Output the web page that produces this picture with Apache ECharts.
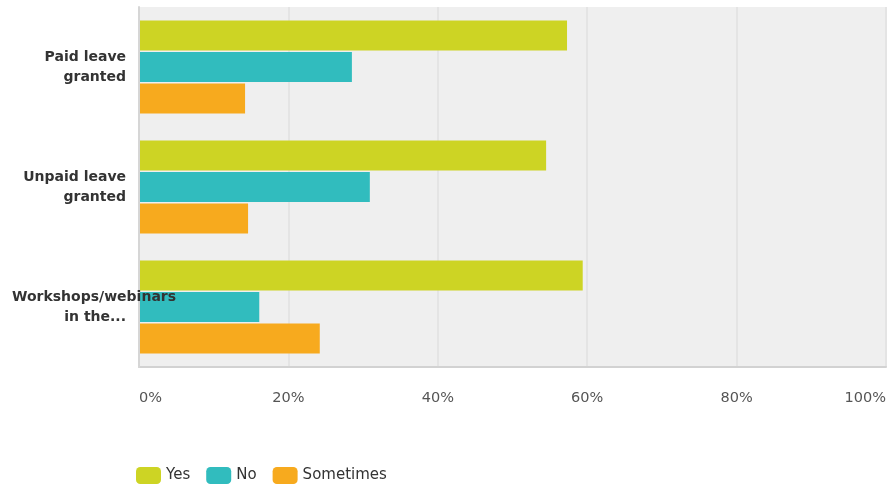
<!DOCTYPE html>
<html><head><meta charset="utf-8">
<script src="https://cdn.jsdelivr.net/npm/echarts@6/dist/echarts.min.js"></script>
<style>html,body{margin:0;padding:0;background:#fff}#c{width:893px;height:489px}</style>
</head><body><div id="c"></div>
<script>
const categories = ['Paid leave granted', 'Unpaid leave granted', 'Workshops/webinars in the...'];
const labelLines = [['Paid leave', 'granted'], ['Unpaid leave', 'granted'], ['Workshops/webinars', 'in the...']];
const yesValues = [57.3, 54.5, 59.4];
const noValues = [28.5, 30.9, 16.1];
const sometimesValues = [14.2, 14.6, 24.2];
const xTicks = [0, 20, 40, 60, 80, 100];

const chart = echarts.init(document.getElementById('c'));
chart.setOption({
  animation: false,
  color: ['#cdd424', '#31bcbe', '#f7aa1e'],
  grid: { left: 139, right: 7, top: 7, bottom: 122, show: true, backgroundColor: '#efefef', borderWidth: 0 },
  legend: {
    left: 131, top: 462, itemWidth: 25, itemHeight: 17, itemGap: 16,
    icon: 'roundRect',
    textStyle: { fontFamily: 'DejaVu Sans', fontSize: 15, color: '#333' },
    data: ['Yes', 'No', 'Sometimes']
  },
  xAxis: {
    type: 'value', min: 0, max: 100, interval: 20,
    axisLine: { show: true, onZero: false, lineStyle: { color: '#d2d2d2', width: 2 } },
    axisTick: { show: false },
    splitLine: { show: true, lineStyle: { color: '#e4e4e4', width: 2 } },
    axisLabel: {
      margin: 24, fontFamily: 'DejaVu Sans', fontSize: 14.5, color: '#555',
      alignMinLabel: 'left', alignMaxLabel: 'right',
      formatter: v => v + '%'
    }
  },
  yAxis: {
    type: 'category', inverse: true, data: categories, z: 5,
    axisLine: { show: true, lineStyle: { color: '#d6d6d6', width: 2 } },
    axisTick: { show: false },
    axisLabel: {
      margin: 13, width: 114, overflow: 'none', lineHeight: 20,
      formatter: (v, i) => {
        const l = labelLines[i];
        if (i === 2) return '{l|' + l[0] + '}\n{r|' + l[1] + '}';
        return '{r|' + l[0] + '}\n{r|' + l[1] + '}';
      },
      rich: {
        l: { align: 'left', fontFamily: 'DejaVu Sans', fontWeight: 'bold', fontSize: 14, color: '#333', lineHeight: 20 },
        r: { align: 'right', fontFamily: 'DejaVu Sans', fontWeight: 'bold', fontSize: 14, color: '#333', lineHeight: 20 }
      }
    }
  },
  series: [
    { name: 'Yes', type: 'bar', data: yesValues, barWidth: 30, barGap: '5%' },
    { name: 'No', type: 'bar', data: noValues, barWidth: 30, barGap: '5%' },
    { name: 'Sometimes', type: 'bar', data: sometimesValues, barWidth: 30, barGap: '5%' }
  ]
});
</script></body></html>
